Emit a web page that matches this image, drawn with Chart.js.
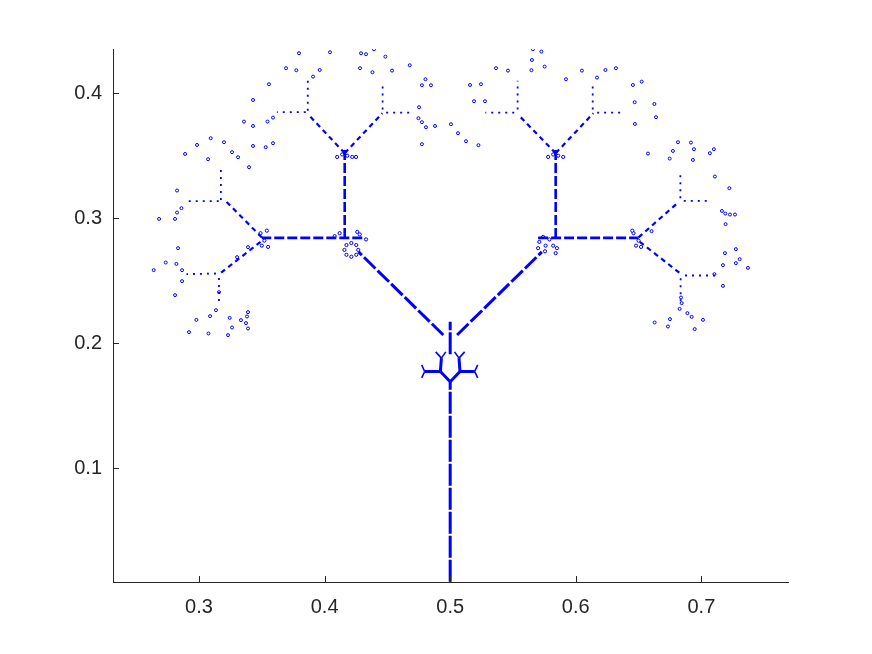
<!DOCTYPE html>
<html>
<head>
<meta charset="utf-8">
<script src="https://cdn.jsdelivr.net/npm/chart.js@4"></script>
<style>
  html, body { margin: 0; background: #fff; }
  canvas { display: block; }
</style>
</head>
<body>
<canvas id="chart" width="872" height="654"></canvas>
<script>
// axis ticks
const xTicks = [0.3, 0.4, 0.5, 0.6, 0.7];
const yTicks = [0.1, 0.2, 0.3, 0.4];

// branch segments: [x0, y0, x1, y1]
const trunk = [[0.5, 0.009, 0.5, 0.169], [0.5, 0.191, 0.5, 0.217]];
const level1 = [[0.4945, 0.2065, 0.427, 0.273], [0.5055, 0.2065, 0.573, 0.273]];
const level2 = [
  [0.430, 0.2842, 0.350, 0.2842], [0.416, 0.2842, 0.416, 0.356],
  [0.570, 0.2842, 0.650, 0.2842], [0.584, 0.2842, 0.584, 0.356]
];
const level3 = [
  [0.350, 0.2846, 0.320, 0.315], [0.349, 0.281, 0.317, 0.256],
  [0.416, 0.352, 0.387, 0.383], [0.416, 0.352, 0.446, 0.384],
  [0.584, 0.352, 0.554, 0.383], [0.584, 0.352, 0.614, 0.384],
  [0.650, 0.2846, 0.682, 0.313], [0.651, 0.281, 0.683, 0.256]
];
const level4 = [
  [0.3174, 0.3146, 0.3174, 0.340], [0.3157, 0.3137, 0.290, 0.3137],
  [0.3135, 0.2557, 0.290, 0.2552], [0.3159, 0.2522, 0.3159, 0.230],
  [0.3866, 0.386, 0.3866, 0.411], [0.385, 0.3848, 0.362, 0.3848],
  [0.4462, 0.387, 0.4462, 0.408], [0.449, 0.3845, 0.471, 0.3845],
  [0.5537, 0.387, 0.5537, 0.410], [0.551, 0.3845, 0.528, 0.3845],
  [0.6135, 0.387, 0.6135, 0.409], [0.617, 0.3845, 0.639, 0.3845],
  [0.6833, 0.316, 0.6833, 0.338], [0.686, 0.3138, 0.708, 0.3138],
  [0.687, 0.2541, 0.711, 0.2541], [0.6835, 0.252, 0.6835, 0.231]
];
// small copy of the tree sitting on the trunk
const miniTree = [
  [0.5, 0.169, 0.4922, 0.1773], [0.5, 0.169, 0.5078, 0.1773],
  [0.4922, 0.1773, 0.4797, 0.1773], [0.5078, 0.1773, 0.5195, 0.1773],
  [0.4922, 0.1773, 0.4930, 0.188], [0.5078, 0.1773, 0.5070, 0.188]
];
const miniTwigs = [
  [0.4797, 0.1773, 0.4773, 0.1826], [0.4797, 0.1773, 0.4773, 0.1722],
  [0.5195, 0.1773, 0.5219, 0.1826], [0.5195, 0.1773, 0.5219, 0.1722],
  [0.4930, 0.188, 0.4885, 0.193], [0.4930, 0.188, 0.4965, 0.193],
  [0.5070, 0.188, 0.5035, 0.193], [0.5070, 0.188, 0.5115, 0.193]
];

// clusters around the forks
const knots = [
  [0.4158, 0.2746], [0.4268, 0.2746], [0.4213, 0.2691], [0.4213, 0.2801],
  [0.4174, 0.2707], [0.4252, 0.2707], [0.4174, 0.2785], [0.4252, 0.2785],
  [0.408, 0.2856], [0.412, 0.288], [0.428, 0.287], [0.433, 0.283], [0.426, 0.289],
  [0.571, 0.281], [0.574, 0.285], [0.576, 0.278], [0.579, 0.283], [0.582, 0.278],
  [0.584, 0.272], [0.585, 0.276], [0.570, 0.276], [0.5755, 0.2735],
  [0.410, 0.349], [0.414, 0.351], [0.418, 0.350], [0.422, 0.349], [0.425, 0.349], [0.416, 0.353],
  [0.578, 0.349], [0.582, 0.351], [0.586, 0.350], [0.590, 0.349], [0.584, 0.353],
  [0.349, 0.288], [0.352, 0.282], [0.350, 0.278], [0.354, 0.290], [0.355, 0.277],
  [0.646, 0.288], [0.650, 0.282], [0.648, 0.278], [0.645, 0.290], [0.652, 0.277]
];

// loose outer points
const leaves = [
  [0.3358, 0.3773], [0.3430, 0.3738], [0.3545, 0.3773], [0.3093, 0.3640], [0.2984, 0.3586],
  [0.3199, 0.3608], [0.2889, 0.3514], [0.3263, 0.3528], [0.3311, 0.3488], [0.3072, 0.3472],
  [0.3430, 0.3578], [0.3531, 0.3568], [0.3589, 0.3600], [0.3398, 0.3408], [0.2825, 0.3221],
  [0.2682, 0.2994], [0.2809, 0.2994], [0.2825, 0.3045], [0.2860, 0.3080], [0.2833, 0.2760],
  [0.2735, 0.2645], [0.2639, 0.2584], [0.2820, 0.2634], [0.2865, 0.2584], [0.2865, 0.2496],
  [0.2809, 0.2384], [0.3390, 0.2768], [0.3303, 0.2688], [0.3159, 0.2408], [0.3135, 0.2264],
  [0.3088, 0.2216], [0.2979, 0.2186], [0.2920, 0.2088], [0.3075, 0.2077], [0.3231, 0.2064],
  [0.3244, 0.2202], [0.3263, 0.2125], [0.3334, 0.2184], [0.3374, 0.2160], [0.3390, 0.2117],
  [0.3382, 0.2213], [0.3390, 0.2248],
  [0.3796, 0.4320], [0.4043, 0.4328], [0.4290, 0.4320], [0.4330, 0.4312], [0.4393, 0.4352],
  [0.4484, 0.4293], [0.3693, 0.4200], [0.3775, 0.4184], [0.3961, 0.4186], [0.3908, 0.4133],
  [0.3557, 0.4072], [0.4282, 0.4200], [0.4381, 0.4168], [0.4537, 0.4181], [0.4678, 0.4224],
  [0.4803, 0.4112], [0.4775, 0.4064], [0.4847, 0.4064], [0.4752, 0.3888], [0.3430, 0.3946],
  [0.3589, 0.3805], [0.4747, 0.3800], [0.4775, 0.3768], [0.4807, 0.3728], [0.4879, 0.3738],
  [0.5006, 0.3752], [0.5062, 0.3680], [0.4775, 0.3592],
  [0.5659, 0.4352], [0.5726, 0.4333], [0.5651, 0.4266], [0.5752, 0.4213], [0.5647, 0.4184],
  [0.5365, 0.4200], [0.5460, 0.4181], [0.6049, 0.4181], [0.6236, 0.4186], [0.6320, 0.4200],
  [0.5922, 0.4112], [0.6169, 0.4125], [0.5158, 0.4066], [0.5245, 0.4072], [0.6455, 0.4066],
  [0.6525, 0.4093], [0.5190, 0.3936], [0.5277, 0.3936], [0.6469, 0.3928], [0.6626, 0.3914],
  [0.6639, 0.3808], [0.6471, 0.3754], [0.5126, 0.3616], [0.5225, 0.3584], [0.6575, 0.3517],
  [0.6814, 0.3608], [0.6774, 0.3538], [0.6748, 0.3477], [0.6604, 0.2896],
  [0.6917, 0.3605], [0.6941, 0.3552], [0.7100, 0.3552], [0.7068, 0.3520], [0.6933, 0.3466],
  [0.7108, 0.3333], [0.7223, 0.3240], [0.7164, 0.3058], [0.7191, 0.3037], [0.7228, 0.3029],
  [0.7268, 0.3029], [0.7193, 0.2952], [0.7275, 0.2752], [0.7188, 0.2720], [0.7305, 0.2672],
  [0.7275, 0.2640], [0.7371, 0.2602], [0.7172, 0.2624], [0.7104, 0.2552], [0.7172, 0.2458],
  [0.6838, 0.2365], [0.6843, 0.2320], [0.6827, 0.2274], [0.6889, 0.2240], [0.6923, 0.2210],
  [0.7013, 0.2186], [0.6750, 0.2192], [0.6628, 0.2165], [0.6734, 0.2133], [0.6947, 0.2112]
];

const blue = "#0000ff";
const axisColor = "#262626";

function segmentSets(list, width, dash) {
  return list.map((s) => ({
    data: [{ x: s[0], y: s[1] }, { x: s[2], y: s[3] }],
    showLine: true,
    borderColor: blue,
    borderWidth: width,
    borderDash: dash,
    borderCapStyle: "butt",
    pointRadius: 0,
    fill: false,
  }));
}

function pointSet(list, radius) {
  return {
    data: list.map((p) => ({ x: p[0], y: p[1] })),
    showLine: false,
    pointRadius: radius,
    pointBorderWidth: 1,
    pointBorderColor: blue,
    pointBackgroundColor: "#ffffff",
  };
}

const innerTicks = {
  id: "innerTicks",
  afterDraw(chart) {
    const { ctx, chartArea: a, scales: { x, y } } = chart;
    ctx.save();
    ctx.strokeStyle = axisColor;
    ctx.lineWidth = 1;
    ctx.beginPath();
    xTicks.forEach((v) => {
      const px = Math.round(x.getPixelForValue(v)) + 0.5;
      ctx.moveTo(px, a.bottom);
      ctx.lineTo(px, a.bottom - 6);
    });
    yTicks.forEach((v) => {
      const py = Math.round(y.getPixelForValue(v)) + 0.5;
      ctx.moveTo(a.left, py);
      ctx.lineTo(a.left + 6, py);
    });
    ctx.stroke();
    ctx.restore();
  },
};

const tickFont = { family: "'Liberation Sans', Arial, Helvetica, sans-serif", size: 20 };

new Chart(document.getElementById("chart"), {
  type: "scatter",
  data: {
    datasets: [
      ...segmentSets(trunk, 3, [22, 2]),
      ...segmentSets(level1, 3, [16, 3]),
      ...segmentSets(level2, 2.6, [10, 3]),
      ...segmentSets(level3, 2.2, [5, 4]),
      ...segmentSets(level4, 1.8, [2, 5]),
      ...segmentSets(miniTree, 3, []),
      ...segmentSets(miniTwigs, 1.6, []),
      pointSet(knots, 1.6),
      pointSet(leaves, 1.5),
    ],
  },
  options: {
    responsive: false,
    animation: false,
    devicePixelRatio: 1,
    layout: { padding: { top: 49, right: 84, left: 0, bottom: 0 } },
    plugins: { legend: { display: false }, tooltip: { enabled: false } },
    scales: {
      x: {
        type: "linear",
        min: 0.2315,
        max: 0.769,
        afterBuildTicks: (scale) => { scale.ticks = xTicks.map((v) => ({ value: v })); },
        afterFit: (scale) => { scale.height = 72; },
        grid: { drawOnChartArea: false, drawTicks: false },
        border: { display: true, color: axisColor, width: 1 },
        ticks: { padding: 13, color: axisColor, font: tickFont, maxRotation: 0, callback: (v) => v.toFixed(1) },
      },
      y: {
        type: "linear",
        min: 0.0088,
        max: 0.4354,
        afterBuildTicks: (scale) => { scale.ticks = yTicks.map((v) => ({ value: v })); },
        afterFit: (scale) => { scale.width = 113; },
        grid: { drawOnChartArea: false, drawTicks: false },
        border: { display: true, color: axisColor, width: 1 },
        ticks: { padding: 11, color: axisColor, font: tickFont, callback: (v) => v.toFixed(1) },
      },
    },
  },
  plugins: [innerTicks],
});
</script>
</body>
</html>
